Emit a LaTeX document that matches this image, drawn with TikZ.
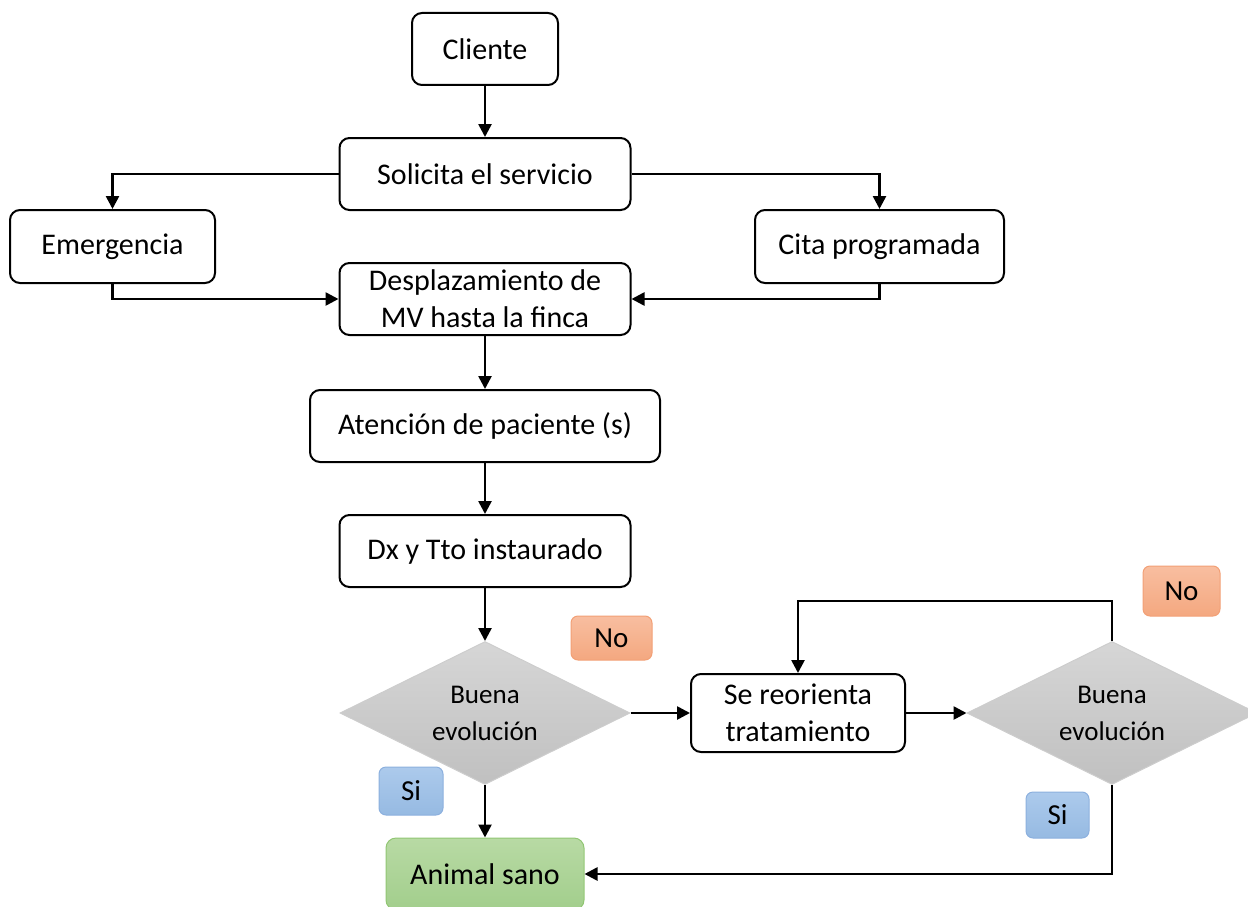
\documentclass[tikz,border=0pt]{standalone}
\usepackage{fontspec}
\setmainfont{Carlito}
\usetikzlibrary{arrows.meta,shapes.geometric}
\definecolor{dgtop}{RGB}{214,214,214}
\definecolor{dgbot}{RGB}{192,192,192}
\definecolor{dgline}{RGB}{205,205,205}
\definecolor{ortop}{RGB}{248,190,160}
\definecolor{orbot}{RGB}{244,168,128}
\definecolor{orline}{RGB}{242,160,118}
\definecolor{bltop}{RGB}{172,202,236}
\definecolor{blbot}{RGB}{150,186,226}
\definecolor{blline}{RGB}{140,176,222}
\definecolor{grtop}{RGB}{184,218,164}
\definecolor{grbot}{RGB}{162,206,140}
\definecolor{grline}{RGB}{145,198,115}
\tikzset{
  box/.style={draw=black, line width=2pt, rounded corners=10pt, fill=white,
    inner sep=0pt, align=center, font=\fontsize{30}{37}\selectfont, minimum height=72pt},
  dec/.style={diamond, aspect=2, draw=dgline, line width=1pt, top color=dgtop, bottom color=dgbot,
    inner sep=0pt, align=center, font=\fontsize{27}{37}\selectfont,
    minimum width=290pt, minimum height=143pt},
  notag/.style={draw=orline, line width=1pt, rounded corners=7pt, top color=ortop, bottom color=orbot,
    inner sep=0pt, font=\fontsize{29}{35}\selectfont},
  sitag/.style={draw=blline, line width=1pt, rounded corners=7pt, top color=bltop, bottom color=blbot,
    inner sep=0pt, font=\fontsize{29}{35}\selectfont},
  conn/.style={line width=2.6pt, -{Triangle[length=13pt,width=13pt]}},
}
\begin{document}
\begin{tikzpicture}[x=1pt,y=-1pt]
\useasboundingbox (0,0) rectangle (1248,907);
\node[box, minimum width=146pt] (cli) at (485,49) {Cliente};
\node[box, minimum width=291pt] (sol) at (485,174) {Solicita el servicio};
\node[box, minimum width=205pt, minimum height=73pt] (eme) at (112.5,246.5) {Emergencia};
\node[box, minimum width=249pt, minimum height=73pt] (cit) at (879.5,246.5) {Cita programada};
\node[box, minimum width=291pt] (des) at (485,299) {Desplazamiento de\\MV hasta la finca};
\node[box, minimum width=350pt] (ate) at (485,426) {Atención de paciente (s)};
\node[box, minimum width=291pt] (dx) at (485,551) {Dx y Tto instaurado};
\node[dec] (d1) at (485,713) {Buena\\evolución};
\node[box, minimum width=214pt, minimum height=78pt] (reo) at (798,713) {Se reorienta\\tratamiento};
\node[dec] (d2) at (1112,713) {Buena\\evolución};
\node[box, draw=grline, line width=1pt, top color=grtop, bottom color=grbot, minimum width=198pt] (san) at (485,874) {Animal sano};
\node[notag, minimum width=81pt, minimum height=44pt] (no1) at (611.5,638) {No};
\node[sitag, minimum width=64pt, minimum height=48pt] (si1) at (411,791) {Si};
\node[notag, minimum width=77pt, minimum height=50pt] (no2) at (1181.5,591) {No};
\node[sitag, minimum width=63pt, minimum height=46pt] (si2) at (1057.5,815) {Si};
\coordinate (loop) at (1112,601);
\draw[conn] (cli) -- (sol);
\draw[conn] (sol.west) -| (eme.north);
\draw[conn] (sol.east) -| (cit.north);
\draw[conn] (eme.south) |- (des.west);
\draw[conn] (cit.south) |- (des.east);
\draw[conn] (des) -- (ate);
\draw[conn] (ate) -- (dx);
\draw[conn] (dx) -- (d1);
\draw[conn] (d1.east) -- (reo.west);
\draw[conn] (reo.east) -- (d2.west);
\draw[conn] (d2.north) -- (loop) -| (reo.north);
\draw[conn] (d1.south) -- (san.north);
\draw[conn] (d2.south) |- (san.east);
\end{tikzpicture}
\end{document}
